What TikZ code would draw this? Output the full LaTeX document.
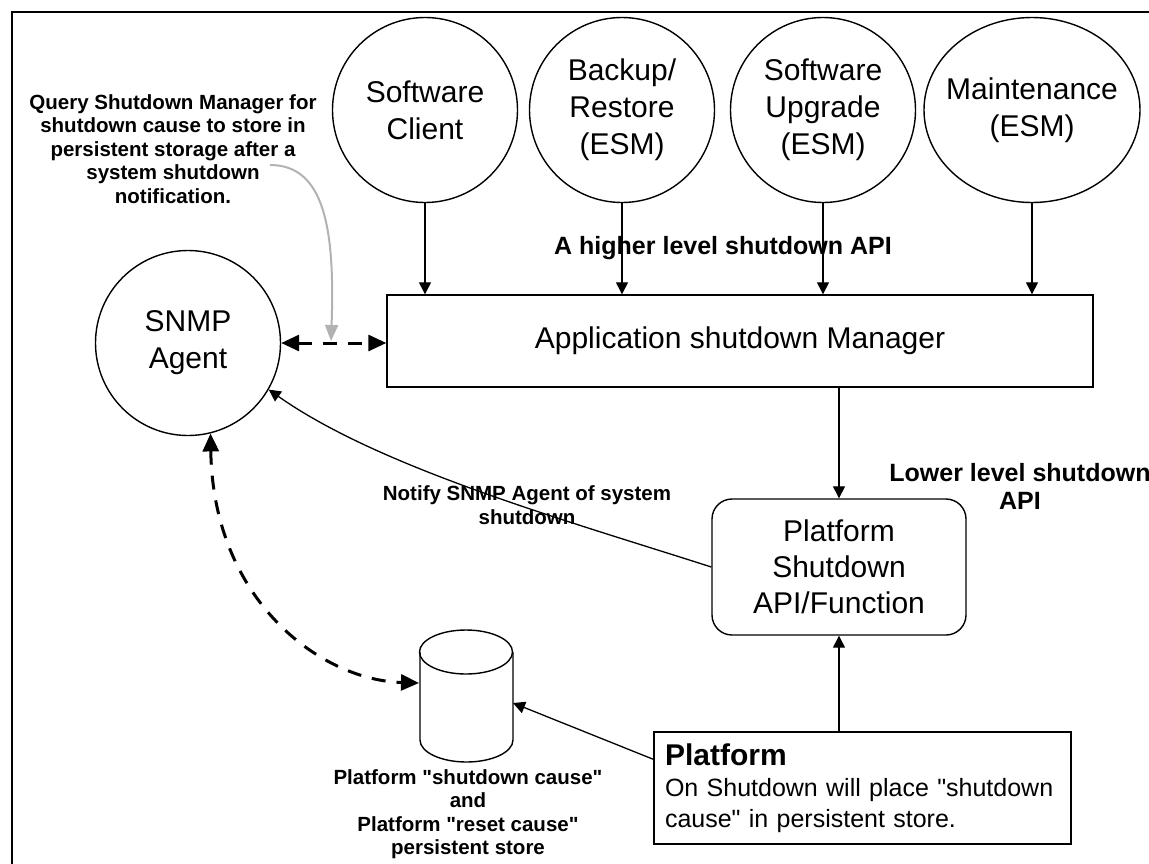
\documentclass[tikz,border=0pt]{standalone}
\usepackage{fontspec}
\setmainfont{Liberation Sans}
\usetikzlibrary{arrows.meta,shapes.geometric}
\definecolor{qgray}{RGB}{178,178,178}

\begin{document}
\begin{tikzpicture}[
        x=1pt, y=-1pt,
        nodeCirc/.style={circle, draw, line width=1.4pt, minimum size=185pt, inner sep=0pt, align=center, font=\fontsize{30}{37}\selectfont},
        nodeEll/.style={ellipse, draw, line width=1.4pt, minimum width=216pt, minimum height=185pt, inner xsep=-10pt, inner ysep=0pt, align=center, font=\fontsize{30}{37}\selectfont},
        nodeBox/.style={rectangle, draw, line width=1.4pt, inner sep=0pt, align=center, font=\fontsize{30}{36}\selectfont},
        lblBold/.style={align=center, inner sep=0pt, font=\bfseries\fontsize{20.5}{23.5}\selectfont},
        lblBig/.style={align=center, inner sep=0pt, font=\bfseries\fontsize{25}{28}\selectfont},
        edgeThin/.style={line width=1.3pt, -{Triangle[length=12pt,width=12pt]}},
        edgeDash/.style={line width=3pt, dash pattern=on 14pt off 11pt, {Triangle[length=18pt,width=16pt]}-{Triangle[length=18pt,width=16pt]}},
        edgeGray/.style={line width=2pt, draw=qgray, -{Triangle[length=16pt,width=13pt,fill=qgray]}}
        ]
        \clip (0,0) rectangle (1149,863);
        \draw[line width=2.5pt] (12,12) rectangle (1200,900);

        \node[nodeCirc] (client) at (425,110) {Software\\Client};
        \node[nodeCirc] (backup) at (622,110) {Backup/\\Restore\\(ESM)};
        \node[nodeCirc] (upgrade) at (823,110) {Software\\Upgrade\\(ESM)};
        \node[nodeEll] (maint) at (1032,110) {Maintenance\\(ESM)};
        \node[nodeCirc] (snmp) at (188,343) {SNMP\\Agent};

        \node[nodeBox, minimum width=706pt, minimum height=92pt] (manager) at (740,341) {Application shutdown Manager};
        \node[nodeBox, rounded corners=20pt, minimum width=254pt, minimum height=136pt] (psf) at (839,567) {Platform\\Shutdown\\API/Function};
        \node[nodeBox, minimum width=417pt, minimum height=112pt, text width=395pt, align=left, font=\fontsize{25}{31}\selectfont] (platform) at (862.5,788)
            {{\bfseries\fontsize{30}{32}\selectfont Platform}\\On Shutdown will place \textquotedbl shutdown\\cause\textquotedbl{} in persistent store.};

        % persistent store cylinder
        \node[minimum width=93pt, minimum height=132pt, inner sep=0pt] (store) at (466,696) {};
        \draw[line width=1.4pt, fill=white] (420,652) -- (420,740) arc[start angle=180, end angle=0, x radius=46.5, y radius=22] -- (513,652);
        \draw[line width=1.4pt] (466,652) ellipse[x radius=46.5, y radius=22];

        \node[lblBig] (higher) at (723,248) {A higher level shutdown API};
        \node[lblBig] (lower) at (1020,486) {Lower level shutdown\\API};
        \node[lblBold] (query) at (173,149) {Query Shutdown Manager for\\shutdown cause to store in\\persistent storage after a\\system shutdown\\notification.};
        \node[lblBold] (notify) at (527,505) {Notify SNMP Agent of system\\shutdown};
        \node[lblBold] (storelbl) at (468,814) {Platform \textquotedbl shutdown cause\textquotedbl\\and\\Platform \textquotedbl reset cause\textquotedbl\\persistent store};

        \foreach \n in {client,backup,upgrade,maint}
            \draw[edgeThin] (\n.south) -- (\n.south |- manager.north);
        \draw[edgeThin] (manager.south -| psf.north) -- (psf.north);
        \draw[edgeThin] (psf.south |- platform.north) -- (psf.south);
        \draw[edgeThin] ([yshift=-28pt]platform.north west) -- ([xshift=47pt,yshift=-7pt]store.center);
        \draw[edgeThin] (psf.west) .. controls (565,520) and (380,468) .. (snmp.-30);

        % query note points at the dashed link
        \coordinate (qfrom) at (270,165);
        \coordinate (qto) at (331,341);
        \draw[edgeGray] (qfrom) .. controls (325,165) and (335,230) .. (qto);

        \draw[edgeDash] (snmp.east) -- (snmp.east -| manager.west);
        \draw[edgeDash] (snmp.-76) .. controls (213,600) and (320,680) .. ([xshift=-47pt,yshift=13pt]store.center);
\end{tikzpicture}
\end{document}
